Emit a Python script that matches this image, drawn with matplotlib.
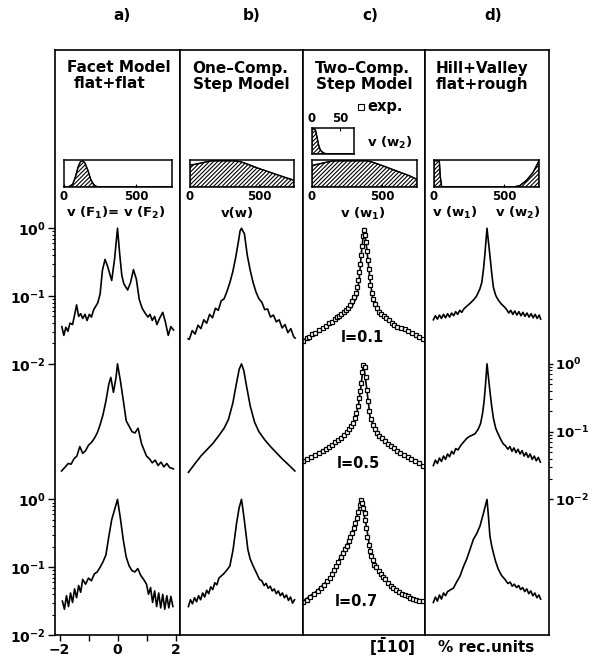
import numpy as np
import matplotlib
matplotlib.use('Agg')
import matplotlib.pyplot as plt
from matplotlib.lines import Line2D

plt.rcParams['font.family'] = 'DejaVu Sans'
plt.rcParams['font.weight'] = 'bold'
plt.rcParams['mathtext.default'] = 'bf'
plt.rcParams['hatch.linewidth'] = 0.8

W, H = 592, 657

# ---- line profiles: log10(intensity) against [-110] position (% rec. units) ----
# a) facet model
a_top_x = [-1.92, -1.85, -1.78, -1.71, -1.64, -1.55, -1.48, -1.41, -1.34, -1.27, -1.2, -1.12, -1.05,
           -0.97, -0.9, -0.82, -0.75, -0.68, -0.6, -0.52, -0.43, -0.35, -0.2, -0.1, 0.0, 0.08, 0.15,
           0.22, 0.35, 0.45, 0.55, 0.65, 0.75, 0.85, 0.95, 1.05, 1.12, 1.2, 1.28, 1.36, 1.45, 1.56,
           1.65, 1.75, 1.84, 1.93]
a_top_y = [-1.45, -1.58, -1.46, -1.52, -1.40, -1.42, -1.28, -1.13, -1.30, -1.26, -1.33, -1.27, -1.36,
           -1.27, -1.31, -1.20, -1.15, -1.10, -0.97, -0.62, -0.46, -0.55, -0.77, -0.45, 0.0, -0.40, -0.70,
           -0.82, -0.91, -0.80, -0.61, -0.75, -1.05, -1.18, -1.25, -1.31, -1.27, -1.36, -1.30, -1.42, -1.33,
           -1.24, -1.38, -1.58, -1.45, -1.50]
a_mid_x = [-1.93, -1.8, -1.7, -1.6, -1.5, -1.4, -1.3, -1.2, -1.1, -1.0, -0.9, -0.8, -0.7, -0.6, -0.5,
           -0.4, -0.3, -0.23, -0.14, -0.05, 0.0, 0.1, 0.2, 0.3, 0.5, 0.6, 0.71, 0.83, 1.0, 1.1, 1.2, 1.3,
           1.4, 1.5, 1.6, 1.7, 1.8, 1.93]
a_mid_y = [-1.58, -1.52, -1.47, -1.48, -1.40, -1.36, -1.22, -1.32, -1.28, -1.20, -1.16, -1.10, -1.02,
           -0.90, -0.75, -0.55, -0.30, -0.20, -0.42, -0.20, 0.0, -0.25, -0.54, -0.84, -1.00, -1.02, -0.95,
           -1.18, -1.36, -1.40, -1.46, -1.42, -1.50, -1.45, -1.52, -1.47, -1.53, -1.55]
a_bot_x = [-1.9, -1.83, -1.76, -1.69, -1.62, -1.55, -1.48, -1.41, -1.34, -1.27, -1.2, -1.1, -1.0, -0.9,
           -0.8, -0.7, -0.6, -0.5, -0.4, -0.3, -0.2, -0.12, 0.0, 0.1, 0.2, 0.3, 0.4, 0.5, 0.6, 0.7, 0.8,
           0.9, 1.0, 1.07, 1.14, 1.21, 1.28, 1.35, 1.42, 1.49, 1.56, 1.63, 1.7, 1.77, 1.84, 1.91]
a_bot_y = [-1.50, -1.62, -1.42, -1.58, -1.38, -1.52, -1.32, -1.45, -1.27, -1.37, -1.18, -1.25, -1.16,
           -1.20, -1.10, -1.07, -1.00, -0.92, -0.82, -0.55, -0.30, -0.18, 0.0, -0.28, -0.60, -0.85, -0.98,
           -1.05, -1.07, -1.02, -1.12, -1.18, -1.25, -1.40, -1.30, -1.52, -1.35, -1.58, -1.38, -1.60, -1.40,
           -1.62, -1.42, -1.60, -1.43, -1.58]

# b) one-component step model
b_top_x = [-1.84, -1.8, -1.7, -1.6, -1.5, -1.4, -1.3, -1.2, -1.1, -1.0, -0.9, -0.8, -0.7, -0.6, -0.5,
           -0.4, -0.3, -0.2, -0.1, -0.05, 0.0, 0.06, 0.1, 0.2, 0.3, 0.4, 0.5, 0.6, 0.7, 0.8, 0.9, 1.0,
           1.1, 1.2, 1.3, 1.4, 1.5, 1.6, 1.7, 1.8, 1.85]
b_top_y = [-1.63, -1.64, -1.51, -1.56, -1.43, -1.48, -1.35, -1.40, -1.27, -1.32, -1.18, -1.21, -1.07,
           -1.04, -0.93, -0.80, -0.64, -0.43, -0.18, -0.04, 0.0, -0.05, -0.08, -0.40, -0.62, -0.80, -0.94,
           -1.04, -1.09, -1.20, -1.19, -1.31, -1.28, -1.38, -1.35, -1.47, -1.42, -1.54, -1.48, -1.60, -1.62]
b_mid_x = [-1.83, -1.6, -1.4, -1.2, -1.0, -0.8, -0.6, -0.45, -0.3, -0.17, -0.08, 0.0, 0.08, 0.17, 0.3,
           0.45, 0.6, 0.8, 1.0, 1.2, 1.4, 1.6, 1.84]
b_mid_y = [-1.60, -1.47, -1.36, -1.27, -1.18, -1.07, -0.95, -0.82, -0.58, -0.28, -0.08, 0.0, -0.10,
           -0.32, -0.62, -0.86, -1.00, -1.12, -1.22, -1.31, -1.40, -1.48, -1.58]
b_bot_x = [-1.83, -1.76, -1.69, -1.62, -1.55, -1.48, -1.41, -1.34, -1.27, -1.2, -1.13, -1.06, -0.99,
           -0.92, -0.85, -0.78, -0.7, -0.6, -0.5, -0.4, -0.29, -0.17, -0.08, 0.0, 0.05, 0.11, 0.22, 0.3,
           0.4, 0.5, 0.62, 0.7, 0.78, 0.85, 0.92, 0.99, 1.06, 1.13, 1.2, 1.27, 1.34, 1.41, 1.48, 1.55,
           1.62, 1.69, 1.76, 1.83]
b_bot_y = [-1.58, -1.48, -1.54, -1.45, -1.51, -1.42, -1.48, -1.38, -1.44, -1.34, -1.39, -1.29, -1.33,
           -1.23, -1.26, -1.16, -1.13, -1.09, -1.04, -0.98, -0.74, -0.35, -0.12, 0.0, -0.15, -0.35, -0.74,
           -0.88, -0.98, -1.07, -1.18, -1.20, -1.27, -1.24, -1.31, -1.28, -1.35, -1.32, -1.39, -1.35, -1.42,
           -1.38, -1.45, -1.41, -1.49, -1.44, -1.53, -1.48]

# c) two-component step model, calculated lines
c_top_x = [-2.1, -1.75, -1.29, -0.83, -0.6, -0.42, -0.25, -0.16, -0.08, 0.0, 0.09, 0.21, 0.32, 0.5,
           0.67, 1.13, 1.59, 2.1]
c_top_y = [-1.65, -1.58, -1.46, -1.31, -1.24, -1.16, -1.01, -0.72, -0.32, 0.0, -0.28, -0.77, -1.08,
           -1.22, -1.30, -1.46, -1.55, -1.64]
c_mid_x = [-2.1, -1.63, -1.06, -0.6, -0.42, -0.31, -0.19, -0.11, -0.02, 0.09, 0.21, 0.44, 0.78, 1.24,
           1.7, 2.1]
c_mid_y = [-1.43, -1.33, -1.18, -1.01, -0.93, -0.84, -0.60, -0.35, 0.0, -0.35, -0.79, -1.01, -1.16,
           -1.31, -1.43, -1.52]
c_bot_x = [-2.1, -1.63, -1.17, -0.83, -0.48, -0.25, -0.1, 0.09, 0.21, 0.44, 0.78, 1.13, 1.59, 2.1]
c_bot_y = [-1.50, -1.35, -1.16, -0.86, -0.57, -0.27, 0.0, -0.41, -0.76, -1.01, -1.20, -1.35, -1.45, -1.50]

# c) measured profiles, l = 0.1, 0.5, 0.7
exp_top_x = [-2.09, -1.98, -1.88, -1.78, -1.68, -1.55, -1.42, -1.3, -1.2, -1.1, -1.0, -0.92, -0.85,
             -0.78, -0.7, -0.62, -0.55, -0.48, -0.41, -0.35, -0.29, -0.24, -0.2, -0.16, -0.13, -0.1,
             -0.07, -0.04, 0.0, 0.04, 0.07, 0.1, 0.13, 0.16, 0.19, 0.22, 0.26, 0.31, 0.37, 0.44, 0.52,
             0.6, 0.68, 0.76, 0.85, 0.95, 1.05, 1.15, 1.28, 1.4, 1.52, 1.65, 1.78, 1.9, 2.05]
exp_top_y = [-1.66, -1.62, -1.60, -1.56, -1.54, -1.50, -1.47, -1.44, -1.40, -1.38, -1.34, -1.31, -1.29,
             -1.26, -1.24, -1.20, -1.17, -1.13, -1.07, -1.02, -0.95, -0.86, -0.76, -0.64, -0.52, -0.40,
             -0.26, -0.12, -0.02, -0.10, -0.20, -0.33, -0.47, -0.60, -0.72, -0.84, -0.95, -1.05, -1.12,
             -1.18, -1.23, -1.26, -1.30, -1.33, -1.36, -1.39, -1.42, -1.45, -1.47, -1.49, -1.52, -1.55,
             -1.57, -1.60, -1.64]
exp_mid_x = [-2.09, -1.95, -1.82, -1.68, -1.55, -1.42, -1.3, -1.2, -1.1, -1.0, -0.9, -0.8, -0.7, -0.6,
             -0.52, -0.44, -0.37, -0.31, -0.26, -0.22, -0.18, -0.14, -0.1, -0.06, -0.02, 0.03, 0.06, 0.1,
             0.14, 0.18, 0.23, 0.3, 0.37, 0.45, 0.53, 0.62, 0.72, 0.82, 0.92, 1.02, 1.13, 1.25, 1.37,
             1.5, 1.62, 1.75, 1.88, 2.02]
exp_mid_y = [-1.44, -1.41, -1.38, -1.34, -1.31, -1.28, -1.26, -1.22, -1.20, -1.16, -1.12, -1.09, -1.05,
             -1.00, -0.96, -0.92, -0.87, -0.80, -0.72, -0.62, -0.50, -0.40, -0.28, -0.12, -0.02, -0.05,
             -0.20, -0.38, -0.55, -0.70, -0.82, -0.90, -0.96, -1.02, -1.06, -1.10, -1.14, -1.18, -1.21,
             -1.24, -1.28, -1.31, -1.35, -1.38, -1.40, -1.44, -1.47, -1.50]
exp_bot_x = [-2.09, -1.97, -1.85, -1.72, -1.6, -1.48, -1.38, -1.28, -1.18, -1.1, -1.02, -0.95, -0.88,
             -0.81, -0.74, -0.67, -0.6, -0.53, -0.47, -0.41, -0.35, -0.3, -0.25, -0.2, -0.15, -0.1, -0.06,
             -0.02, 0.02, 0.05, 0.08, 0.12, 0.16, 0.2, 0.25, 0.3, 0.36, 0.43, 0.5, 0.58, 0.66, 0.74, 0.83,
             0.92, 1.01, 1.1, 1.2, 1.3, 1.4, 1.5, 1.6, 1.7, 1.8, 1.9, 2.02]
exp_bot_y = [-1.51, -1.48, -1.44, -1.40, -1.35, -1.30, -1.26, -1.21, -1.16, -1.10, -1.04, -0.98, -0.92,
             -0.85, -0.79, -0.73, -0.68, -0.62, -0.56, -0.49, -0.42, -0.35, -0.27, -0.18, -0.08, -0.01,
             -0.05, -0.12, -0.20, -0.30, -0.42, -0.55, -0.67, -0.76, -0.84, -0.90, -0.96, -1.00, -1.05,
             -1.10, -1.14, -1.18, -1.23, -1.27, -1.31, -1.34, -1.37, -1.39, -1.41, -1.43, -1.45, -1.47,
             -1.49, -1.50, -1.50]

# d) hill + valley model
d_top_x = [-1.85, -1.78, -1.71, -1.64, -1.57, -1.5, -1.43, -1.36, -1.29, -1.22, -1.15, -1.08, -1.01,
           -0.94, -0.87, -0.8, -0.7, -0.59, -0.45, -0.36, -0.25, -0.18, -0.12, -0.07, 0.0, 0.05, 0.1,
           0.16, 0.22, 0.3, 0.39, 0.5, 0.6, 0.68, 0.75, 0.82, 0.89, 0.96, 1.03, 1.1, 1.17, 1.24, 1.31,
           1.38, 1.45, 1.52, 1.59, 1.66, 1.73, 1.8, 1.85]
d_top_y = [-1.35, -1.29, -1.34, -1.28, -1.33, -1.27, -1.32, -1.26, -1.31, -1.25, -1.29, -1.23, -1.27,
           -1.21, -1.24, -1.19, -1.15, -1.11, -1.05, -1.00, -0.90, -0.80, -0.60, -0.37, 0.0, -0.20, -0.40,
           -0.65, -0.87, -0.99, -1.06, -1.12, -1.16, -1.20, -1.25, -1.21, -1.27, -1.22, -1.28, -1.23,
           -1.29, -1.24, -1.30, -1.25, -1.31, -1.26, -1.32, -1.27, -1.33, -1.28, -1.34]
d_mid_x = [-1.85, -1.78, -1.71, -1.64, -1.57, -1.5, -1.43, -1.36, -1.29, -1.22, -1.15, -1.08, -1.0,
           -0.9, -0.8, -0.7, -0.6, -0.5, -0.41, -0.3, -0.22, -0.15, -0.1, -0.05, 0.0, 0.05, 0.1, 0.16,
           0.22, 0.3, 0.39, 0.48, 0.56, 0.64, 0.72, 0.79, 0.86, 0.93, 1.0, 1.07, 1.14, 1.21, 1.28, 1.35,
           1.42, 1.49, 1.56, 1.63, 1.7, 1.77, 1.84]
d_mid_y = [-1.50, -1.42, -1.47, -1.39, -1.44, -1.36, -1.41, -1.33, -1.37, -1.29, -1.33, -1.25, -1.27,
           -1.20, -1.15, -1.10, -1.07, -1.05, -1.03, -0.96, -0.88, -0.72, -0.55, -0.30, 0.0, -0.20, -0.40,
           -0.62, -0.80, -0.95, -1.04, -1.12, -1.18, -1.21, -1.26, -1.22, -1.29, -1.24, -1.31, -1.26,
           -1.33, -1.28, -1.36, -1.31, -1.38, -1.33, -1.41, -1.36, -1.43, -1.38, -1.45]
d_bot_x = [-1.85, -1.78, -1.71, -1.64, -1.57, -1.5, -1.43, -1.36, -1.25, -1.16, -1.05, -0.93, -0.82,
           -0.7, -0.58, -0.47, -0.35, -0.24, -0.12, 0.0, 0.05, 0.1, 0.16, 0.22, 0.3, 0.39, 0.5, 0.62,
           0.72, 0.8, 0.87, 0.94, 1.02, 1.09, 1.16, 1.23, 1.3, 1.37, 1.44, 1.51, 1.58, 1.65, 1.72, 1.79,
           1.85]
d_bot_y = [-1.52, -1.44, -1.50, -1.41, -1.47, -1.38, -1.42, -1.36, -1.33, -1.31, -1.22, -1.13, -1.00,
           -0.88, -0.73, -0.59, -0.50, -0.39, -0.20, 0.0, -0.25, -0.54, -0.68, -0.79, -0.92, -1.03, -1.12,
           -1.18, -1.24, -1.22, -1.28, -1.25, -1.30, -1.27, -1.33, -1.30, -1.36, -1.32, -1.39, -1.35,
           -1.42, -1.38, -1.45, -1.41, -1.47]

# ---- width distributions shown in the small boxes ----
dist_a_x = [0, 30, 60, 80, 100, 115, 130, 145, 165, 185, 205, 225, 250, 750]
dist_a_y = [0, 0, 0.1, 0.4, 0.8, 0.97, 1.0, 0.92, 0.65, 0.3, 0.1, 0.02, 0, 0]
dist_b_x = [0, 50, 100, 155, 320, 360, 400, 500, 600, 700, 750]
dist_b_y = [0.83, 0.88, 0.94, 1.0, 1.0, 0.97, 0.9, 0.7, 0.52, 0.34, 0.26]
dist_c1_x = [0, 50, 100, 155, 390, 430, 500, 600, 700, 750]
dist_c1_y = [0.82, 0.88, 0.94, 1.0, 1.0, 0.95, 0.82, 0.62, 0.42, 0.29]
dist_c2_x = [0, 3, 6, 9, 12, 15, 21, 30, 75]
dist_c2_y = [1.0, 1.0, 0.97, 0.66, 0.34, 0.15, 0.03, 0, 0]
dist_d_x = [0, 20, 38, 45, 55, 565, 612, 660, 707, 750]
dist_d_y = [1.0, 1.0, 1.0, 0.4, 0, 0, 0.05, 0.25, 0.55, 1.0]

decade_offsets = [0, -2, -4]


def px_axes(x0, y0, x1, y1):
    return fig.add_axes([x0 / W, 1 - y1 / H, (x1 - x0) / W, (y1 - y0) / H])


def label(x, y, s, **kw):
    kw.setdefault('fontsize', 11)
    kw.setdefault('ha', 'center')
    kw.setdefault('va', 'center')
    fig.text(x / W, 1 - y / H, s, **kw)


def dist_box(box, xs, ys, xmax, ticks, top=False):
    ax = px_axes(*box)
    ax.fill_between(xs, ys, color='white', edgecolor='black', hatch='////////', lw=0.8)
    ax.plot(xs, ys, color='black', lw=1.0)
    ax.set_xlim(0, xmax)
    ax.set_ylim(0, 1.03)
    ax.set_yticks([])
    ax.set_xticks(ticks)
    ax.set_xticklabels([str(t) for t in ticks], fontsize=8.5)
    ax.tick_params(axis='x', direction='in', length=2, pad=2, top=top, labeltop=top,
                   bottom=not top, labelbottom=not top)
    for s in ax.spines.values():
        s.set_linewidth(1.1)
    return ax


fig = plt.figure(figsize=(W / 100, H / 100), dpi=100)

panels = [(55, 180), (180, 303), (303, 425), (425, 549)]
profiles = [
    [(a_top_x, a_top_y), (a_mid_x, a_mid_y), (a_bot_x, a_bot_y)],
    [(b_top_x, b_top_y), (b_mid_x, b_mid_y), (b_bot_x, b_bot_y)],
    [(c_top_x, c_top_y), (c_mid_x, c_mid_y), (c_bot_x, c_bot_y)],
    [(d_top_x, d_top_y), (d_mid_x, d_mid_y), (d_bot_x, d_bot_y)],
]
measured = [(exp_top_x, exp_top_y), (exp_mid_x, exp_mid_y), (exp_bot_x, exp_bot_y)]

axes = []
for i, (x0, x1) in enumerate(panels):
    ax = px_axes(x0, 50, x1, 635)
    half = (x1 - x0) / 58.0
    ax.set_xlim(-half, half)
    ax.set_yscale('log')
    ax.set_ylim(1e-6, 10 ** 2.63)
    for (xs, ys), off in zip(profiles[i], decade_offsets):
        ax.plot(xs, 10 ** (np.array(ys) + off), color='black', lw=1.2)
    if i == 2:
        for (xs, ys), off in zip(measured, decade_offsets):
            ax.plot(xs, 10 ** (np.array(ys) + off), ls='none', marker='s', ms=3.4,
                    mfc='white', mec='black', mew=0.9)
    for s in ax.spines.values():
        s.set_linewidth(1.2)
    ax.set_yticks([])
    ax.set_yticks([], minor=True)
    ax.set_xticks([])
    axes.append(ax)

# left intensity scale (top and bottom profile)
ax = axes[0]
dec_labels = [r'$10^{0}$', r'$10^{-1}$', r'$10^{-2}$']
ax.set_yticks([1, 1e-1, 1e-2, 1e-4, 1e-5, 1e-6])
ax.set_yticklabels(dec_labels * 2, fontsize=10)
ax.set_yticks([k * 10.0 ** d for d in (-2, -1, -6, -5) for k in range(2, 10)], minor=True)
ax.tick_params(axis='y', which='major', direction='out', length=5, width=1.0, pad=2)
ax.tick_params(axis='y', which='minor', direction='out', length=2.5, width=0.8)
ax.set_xticks([-2, -1, 0, 1, 2])
ax.set_xticklabels(['\u22122', '', '0', '', '2'], fontsize=10)
ax.tick_params(axis='x', direction='out', length=4, width=1.0, pad=2)

# right intensity scale (middle profile)
ax = axes[3]
ax.yaxis.tick_right()
ax.set_yticks([1e-2, 1e-3, 1e-4])
ax.set_yticklabels(dec_labels, fontsize=9.5)
ax.set_yticks([k * 10.0 ** d for d in (-4, -3) for k in range(2, 10)], minor=True)
ax.tick_params(axis='y', which='major', direction='out', length=3, width=1.0, pad=1)
ax.tick_params(axis='y', which='minor', direction='out', length=2, width=0.8)

# distribution boxes
dist_box((64, 160, 172, 187), dist_a_x, dist_a_y, 750, [0, 500])
dist_box((190, 160, 294, 187), dist_b_x, dist_b_y, 750, [0, 500])
dist_box((312, 160, 417, 187), dist_c1_x, dist_c1_y, 750, [0, 500])
dist_box((312, 128, 354, 154), dist_c2_x, dist_c2_y, 75, [0, 50], top=True)
dist_box((434, 160, 539, 187), dist_d_x, dist_d_y, 750, [0, 500])

# panel letters and model names
for s, x in zip(['a)', 'b)', 'c)', 'd)'], [122, 252, 370, 493]):
    label(x, 15, s)
label(67, 68, 'Facet Model', ha='left')
label(74, 84, 'flat+flat', ha='left')
label(192, 68, 'One\u2013Comp.', ha='left')
label(193, 84, 'Step Model', ha='left')
label(315, 68, 'Two\u2013Comp.', ha='left')
label(316, 84, 'Step Model', ha='left')
label(436, 68, 'Hill+Valley', ha='left')
label(436, 84, 'flat+rough', ha='left')

fig.add_artist(Line2D([361 / W], [1 - 107 / H], marker='s', ms=4, mfc='white', mec='black',
                      mew=0.8, transform=fig.transFigure))
label(367, 106, 'exp.', ha='left', fontsize=10.5)

label(116, 213, r'v (F$_1$)= v (F$_2$)', fontsize=9.5)
label(237, 213, 'v(w)', fontsize=9.5)
label(363, 214, r'v (w$_1$)', fontsize=9.5)
label(390, 143, r'v (w$_2$)', fontsize=9.5)
label(455, 213, r'v (w$_1$)', fontsize=9.5)
label(518, 213, r'v (w$_2$)', fontsize=9.5)

label(362, 338, 'l=0.1', fontsize=10.5)
label(358, 463, 'l=0.5', fontsize=10.5)
label(356, 602, 'l=0.7', fontsize=10.5)

label(392, 647, r'$[\bar{1}10]$', fontsize=11)
label(486, 647, '% rec.units', fontsize=11)

fig.savefig('out.png', dpi=100)
